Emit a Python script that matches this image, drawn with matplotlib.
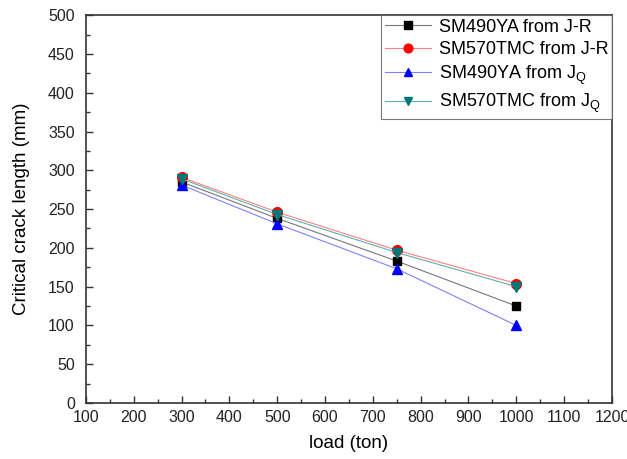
import matplotlib
matplotlib.use("Agg")
import matplotlib.pyplot as plt
from matplotlib.ticker import MultipleLocator

plt.rcParams['font.family'] = ['Liberation Sans', 'DejaVu Sans']
plt.rcParams['mathtext.fontset'] = 'custom'
plt.rcParams['mathtext.rm'] = 'Liberation Sans'

load = [300, 500, 750, 1000]
sm490_jr = [285, 238, 183, 125]
sm570_jr = [291, 246, 197, 154]
sm490_jq = [281, 231, 173, 100]
sm570_jq = [289, 243, 194, 150]

labels = ['SM490YA from J-R', 'SM570TMC from J-R',
          r'SM490YA from J$_\mathregular{Q}$', r'SM570TMC from J$_\mathregular{Q}$']

fig = plt.figure(figsize=(6.27, 4.59), dpi=100)
ax = fig.add_axes([0.137, 0.122, 0.839, 0.845])

series = [
    (sm490_jr, 's', '#777777', 'black', 6),
    (sm570_jr, 'o', '#ff8080', 'red', 7),
    (sm490_jq, '^', '#8080ff', 'blue', 7),
    (sm570_jq, 'v', '#60b0b0', '#007878', 7),
]
for (vals, m, lc, mc, ms), lab in zip(series, labels):
    ax.plot(load, vals, marker=m, color=lc, lw=0.8, ms=ms,
            mfc=mc, mec=mc, label=lab)

ax.set_xlim(100, 1200)
ax.set_ylim(0, 500)
ax.xaxis.set_major_locator(MultipleLocator(100))
ax.xaxis.set_minor_locator(MultipleLocator(50))
ax.yaxis.set_major_locator(MultipleLocator(50))
ax.yaxis.set_minor_locator(MultipleLocator(25))
ax.tick_params(which='major', direction='in', length=5, width=1, labelsize=11.5,
               color='#333333', labelcolor='#222222')
ax.tick_params(which='minor', direction='in', length=3, width=1, color='#333333')
ax.tick_params(axis='x', pad=5)
ax.tick_params(axis='y', pad=8)
for s in ax.spines.values():
    s.set_linewidth(1.2)
    s.set_color('#333333')

ax.set_xlabel('load (ton)', fontsize=13.5, labelpad=7)
ax.set_ylabel('Critical crack length (mm)', fontsize=13.5, labelpad=13)

leg = ax.legend(loc='upper right', bbox_to_anchor=(1.0, 1.0), fontsize=13,
                frameon=True, fancybox=False, edgecolor='#555555',
                borderpad=0.2, handlelength=2.6, handletextpad=0.4,
                labelspacing=0.3, borderaxespad=0.0, markerscale=0.9)
leg.get_frame().set_linewidth(0.8)

fig.savefig('out.png', dpi=100)
